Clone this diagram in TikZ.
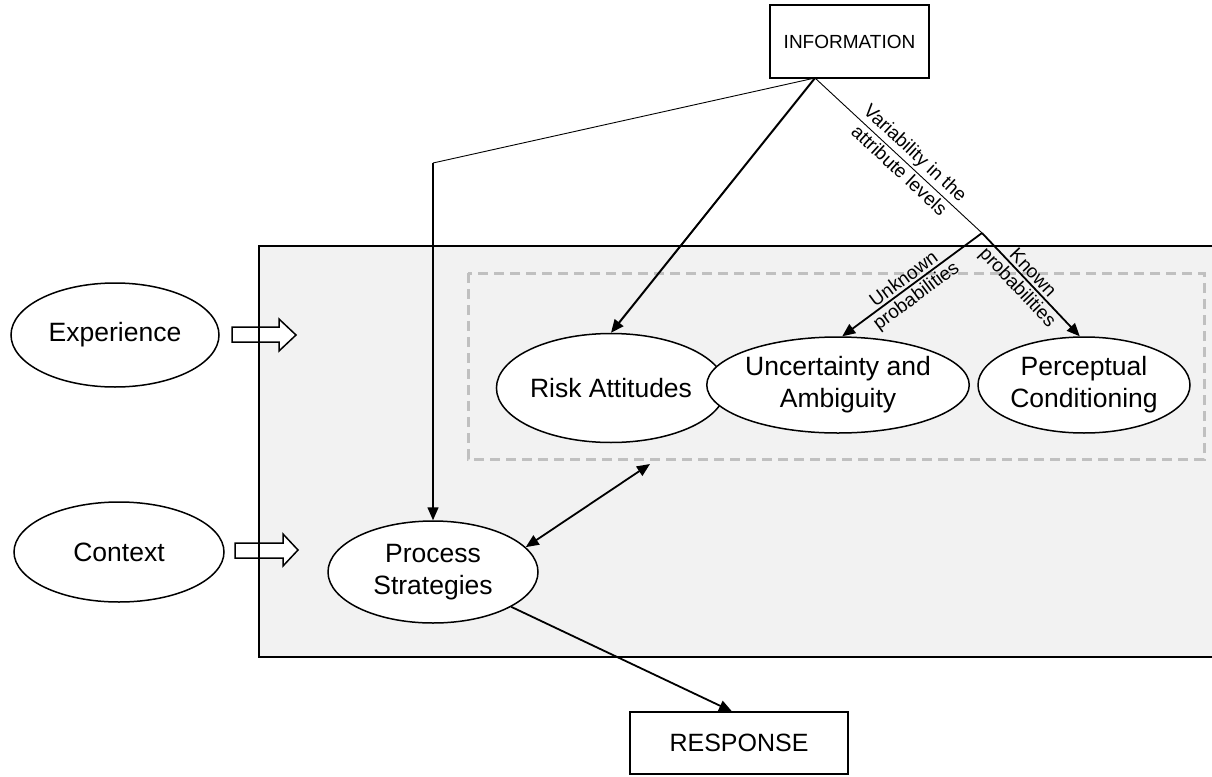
\documentclass[tikz,border=0pt]{standalone}
\usepackage{fontspec}
\setmainfont{Liberation Sans}
\usetikzlibrary{shapes.geometric,arrows.meta,calc}
\definecolor{panel}{HTML}{F2F2F2}
\definecolor{dashgray}{HTML}{C0C0C0}
\begin{document}
\begin{tikzpicture}[x=1pt,y=-1pt,
  >={Triangle[length=13pt,width=11pt]},
  oval/.style={ellipse, draw, fill=white, line width=1.5pt, inner sep=0pt, align=center, font=\fontsize{26.5}{32}\selectfont},
  rbox/.style={rectangle, draw, fill=white, line width=1.2pt, inner sep=0pt, font=\fontsize{25}{28}\selectfont},
  conn/.style={line width=1.8pt, ->},
  hair/.style={line width=0.9pt},
  lbl/.style={font=\fontsize{19}{21}\selectfont, sloped, inner sep=2.5pt},
  blockarrow/.style={draw, fill=white, line width=1.5pt}
]
\useasboundingbox (0,0) rectangle (1212,776);

% panel
\fill[panel] (259,246) rectangle (1230,657);
\draw[dashgray, line width=3pt, dash pattern=on 10pt off 6pt] (468,273) rectangle (1204,459);

% block arrows
\draw[blockarrow] (232,327) -- (279,327) -- (279,319) -- (296,335) -- (279,351) -- (279,342) -- (232,342) -- cycle;
\draw[blockarrow] (235,543) -- (283,543) -- (283,534) -- (298,550) -- (283,566) -- (283,558) -- (235,558) -- cycle;
\draw[line width=1.6pt] (259,246) rectangle (1230,657);

% nodes
\node[rbox, minimum width=159pt, minimum height=73pt, font=\fontsize{19}{22}\selectfont] (info) at (849.5,41.5) {INFORMATION};
\node[rbox, minimum width=218pt, minimum height=62pt] (resp) at (739,743) {RESPONSE};
\node[oval, minimum width=208pt, minimum height=104pt] (exp) at (115,335) {Experience};
\node[oval, minimum width=210pt, minimum height=100pt] (ctx) at (119,552) {Context};
\node[oval, minimum width=219pt, minimum height=109pt] (risk) at (611,388) {Risk Attitudes};
\node[oval, minimum width=210pt, minimum height=96pt] (unc) at (838,385) {Uncertainty and\\Ambiguity};
\node[oval, minimum width=212pt, minimum height=96pt] (perc) at (1084,385) {Perceptual\\Conditioning};
\node[oval, minimum width=210pt, minimum height=102pt] (proc) at (433,572) {Process\\Strategies};

% coordinates
\coordinate (apex) at (815,78);
\coordinate (bend) at (433,163);
\coordinate (branch) at (982,233);
\coordinate (dashS) at (650,464);

% connectors
\draw[hair] (apex) -- (bend);
\draw[conn, line width=1.5pt] (bend) -- (proc.north);
\draw[conn, line width=2pt] (apex) -- (risk.north);
\draw[hair] (apex) -- node[lbl,above,pos=0.547]{Variability in the} node[lbl,below,pos=0.547]{attribute levels} (branch);
\draw[conn] (branch) -- node[lbl,above,pos=0.52]{Unknown} node[lbl,below,pos=0.52]{probabilities} (unc.85);
\draw[conn] (branch) -- node[lbl,above,pos=0.45]{Known} node[lbl,below,pos=0.45]{probabilities} (perc.95);
\draw[conn, <->] (proc.15) -- (dashS);
\draw[conn] (proc.-24) -- ([xshift=-7pt]resp.north);
\end{tikzpicture}
\end{document}
